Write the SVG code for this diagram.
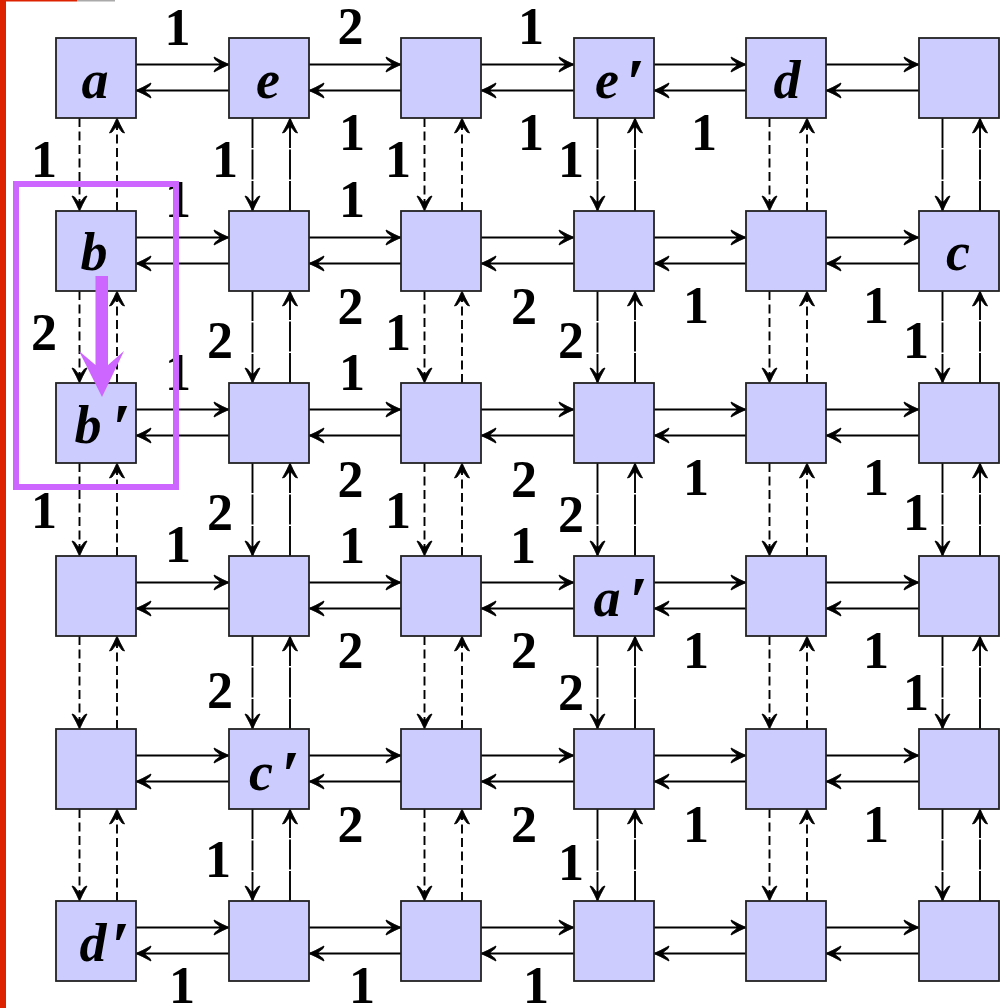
<svg xmlns="http://www.w3.org/2000/svg" width="1000" height="1008" viewBox="0 0 1000 1008">
<style>
.node rect{fill:#ccccff;stroke:#222;stroke-width:1.8}
.node text{font-family:"Liberation Serif","Times New Roman",serif;font-weight:bold;font-style:italic;font-size:54px;fill:#000;text-anchor:middle}
.node text.pr{font-size:68px}
#connectors line{stroke:#000;stroke-width:1.9;fill:none;marker-end:url(#ah)}
#connectors .dash{stroke-dasharray:9 4.5}
#connectors .long{stroke-dasharray:30 1.5}
#labels text{font-family:"Liberation Serif","Times New Roman",serif;font-weight:bold;font-size:52px;fill:#000;text-anchor:middle}
</style>
<defs>
<marker id="ah" markerUnits="userSpaceOnUse" viewBox="-16 -9 18 18" refX="0" refY="0" markerWidth="18" markerHeight="18" orient="auto" overflow="visible">
<path d="M0,0 Q-6,-2.5 -15,-7.5 L-14,-5 Q-9.5,-2 -8.5,0 Q-9.5,2 -14,5 L-15,7.5 Q-6,2.5 0,0 Z" fill="#000" stroke="#000" stroke-width="0.9" stroke-linejoin="round"/>
</marker>
</defs>
<rect x="0" y="0" width="1000" height="1008" fill="#fff"/>
<rect x="0" y="0" width="6" height="1008" fill="#dd2200"/>
<rect x="0" y="0" width="77" height="1.5" fill="#dd2200"/>
<rect x="77" y="0" width="38" height="1.5" fill="#aaaaaa"/>

<g id="connectors">
<line x1="136" y1="64.5" x2="229" y2="64.5"/><line x1="229" y1="90.5" x2="136" y2="90.5"/>
<line x1="309" y1="64.5" x2="401" y2="64.5"/><line x1="401" y1="90.5" x2="309" y2="90.5"/>
<line x1="481" y1="64.5" x2="574" y2="64.5"/><line x1="574" y1="90.5" x2="481" y2="90.5"/>
<line x1="654" y1="64.5" x2="746" y2="64.5"/><line x1="746" y1="90.5" x2="654" y2="90.5"/>
<line x1="826" y1="64.5" x2="919" y2="64.5"/><line x1="919" y1="90.5" x2="826" y2="90.5"/>
<line x1="136" y1="237.5" x2="229" y2="237.5"/><line x1="229" y1="263.5" x2="136" y2="263.5"/>
<line x1="309" y1="237.5" x2="401" y2="237.5"/><line x1="401" y1="263.5" x2="309" y2="263.5"/>
<line x1="481" y1="237.5" x2="574" y2="237.5"/><line x1="574" y1="263.5" x2="481" y2="263.5"/>
<line x1="654" y1="237.5" x2="746" y2="237.5"/><line x1="746" y1="263.5" x2="654" y2="263.5"/>
<line x1="826" y1="237.5" x2="919" y2="237.5"/><line x1="919" y1="263.5" x2="826" y2="263.5"/>
<line x1="136" y1="409.5" x2="229" y2="409.5"/><line x1="229" y1="435.5" x2="136" y2="435.5"/>
<line x1="309" y1="409.5" x2="401" y2="409.5"/><line x1="401" y1="435.5" x2="309" y2="435.5"/>
<line x1="481" y1="409.5" x2="574" y2="409.5"/><line x1="574" y1="435.5" x2="481" y2="435.5"/>
<line x1="654" y1="409.5" x2="746" y2="409.5"/><line x1="746" y1="435.5" x2="654" y2="435.5"/>
<line x1="826" y1="409.5" x2="919" y2="409.5"/><line x1="919" y1="435.5" x2="826" y2="435.5"/>
<line x1="136" y1="582.5" x2="229" y2="582.5"/><line x1="229" y1="608.5" x2="136" y2="608.5"/>
<line x1="309" y1="582.5" x2="401" y2="582.5"/><line x1="401" y1="608.5" x2="309" y2="608.5"/>
<line x1="481" y1="582.5" x2="574" y2="582.5"/><line x1="574" y1="608.5" x2="481" y2="608.5"/>
<line x1="654" y1="582.5" x2="746" y2="582.5"/><line x1="746" y1="608.5" x2="654" y2="608.5"/>
<line x1="826" y1="582.5" x2="919" y2="582.5"/><line x1="919" y1="608.5" x2="826" y2="608.5"/>
<line x1="136" y1="755.5" x2="229" y2="755.5"/><line x1="229" y1="781.5" x2="136" y2="781.5"/>
<line x1="309" y1="755.5" x2="401" y2="755.5"/><line x1="401" y1="781.5" x2="309" y2="781.5"/>
<line x1="481" y1="755.5" x2="574" y2="755.5"/><line x1="574" y1="781.5" x2="481" y2="781.5"/>
<line x1="654" y1="755.5" x2="746" y2="755.5"/><line x1="746" y1="781.5" x2="654" y2="781.5"/>
<line x1="826" y1="755.5" x2="919" y2="755.5"/><line x1="919" y1="781.5" x2="826" y2="781.5"/>
<line x1="136" y1="927.5" x2="229" y2="927.5"/><line x1="229" y1="953.5" x2="136" y2="953.5"/>
<line x1="309" y1="927.5" x2="401" y2="927.5"/><line x1="401" y1="953.5" x2="309" y2="953.5"/>
<line x1="481" y1="927.5" x2="574" y2="927.5"/><line x1="574" y1="953.5" x2="481" y2="953.5"/>
<line x1="654" y1="927.5" x2="746" y2="927.5"/><line x1="746" y1="953.5" x2="654" y2="953.5"/>
<line x1="826" y1="927.5" x2="919" y2="927.5"/><line x1="919" y1="953.5" x2="826" y2="953.5"/>

<line class="dash" x1="79.5" y1="118" x2="79.5" y2="211"/><line class="dash" x1="117" y1="211" x2="117" y2="118"/>
<line class="dash" x1="79.5" y1="291" x2="79.5" y2="383"/><line class="dash" x1="117" y1="383" x2="117" y2="291"/>
<line class="dash" x1="79.5" y1="463" x2="79.5" y2="556"/><line class="dash" x1="117" y1="556" x2="117" y2="463"/>
<line class="dash" x1="79.5" y1="636" x2="79.5" y2="729"/><line class="dash" x1="117" y1="729" x2="117" y2="636"/>
<line class="dash" x1="79.5" y1="809" x2="79.5" y2="901"/><line class="dash" x1="117" y1="901" x2="117" y2="809"/>
<line class="long" x1="252.5" y1="118" x2="252.5" y2="211"/><line class="long" x1="290" y1="211" x2="290" y2="118"/>
<line class="long" x1="252.5" y1="291" x2="252.5" y2="383"/><line class="long" x1="290" y1="383" x2="290" y2="291"/>
<line class="long" x1="252.5" y1="463" x2="252.5" y2="556"/><line class="long" x1="290" y1="556" x2="290" y2="463"/>
<line class="long" x1="252.5" y1="636" x2="252.5" y2="729"/><line class="long" x1="290" y1="729" x2="290" y2="636"/>
<line class="long" x1="252.5" y1="809" x2="252.5" y2="901"/><line class="long" x1="290" y1="901" x2="290" y2="809"/>
<line class="dash" x1="424.5" y1="118" x2="424.5" y2="211"/><line class="dash" x1="462" y1="211" x2="462" y2="118"/>
<line class="dash" x1="424.5" y1="291" x2="424.5" y2="383"/><line class="dash" x1="462" y1="383" x2="462" y2="291"/>
<line class="dash" x1="424.5" y1="463" x2="424.5" y2="556"/><line class="dash" x1="462" y1="556" x2="462" y2="463"/>
<line class="dash" x1="424.5" y1="636" x2="424.5" y2="729"/><line class="dash" x1="462" y1="729" x2="462" y2="636"/>
<line class="dash" x1="424.5" y1="809" x2="424.5" y2="901"/><line class="dash" x1="462" y1="901" x2="462" y2="809"/>
<line class="long" x1="597.5" y1="118" x2="597.5" y2="211"/><line class="long" x1="635" y1="211" x2="635" y2="118"/>
<line class="long" x1="597.5" y1="291" x2="597.5" y2="383"/><line class="long" x1="635" y1="383" x2="635" y2="291"/>
<line class="long" x1="597.5" y1="463" x2="597.5" y2="556"/><line class="long" x1="635" y1="556" x2="635" y2="463"/>
<line class="long" x1="597.5" y1="636" x2="597.5" y2="729"/><line class="long" x1="635" y1="729" x2="635" y2="636"/>
<line class="long" x1="597.5" y1="809" x2="597.5" y2="901"/><line class="long" x1="635" y1="901" x2="635" y2="809"/>
<line class="dash" x1="769.5" y1="118" x2="769.5" y2="211"/><line class="dash" x1="807" y1="211" x2="807" y2="118"/>
<line class="dash" x1="769.5" y1="291" x2="769.5" y2="383"/><line class="dash" x1="807" y1="383" x2="807" y2="291"/>
<line class="dash" x1="769.5" y1="463" x2="769.5" y2="556"/><line class="dash" x1="807" y1="556" x2="807" y2="463"/>
<line class="dash" x1="769.5" y1="636" x2="769.5" y2="729"/><line class="dash" x1="807" y1="729" x2="807" y2="636"/>
<line class="dash" x1="769.5" y1="809" x2="769.5" y2="901"/><line class="dash" x1="807" y1="901" x2="807" y2="809"/>
<line class="long" x1="942.5" y1="118" x2="942.5" y2="211"/><line class="long" x1="980" y1="211" x2="980" y2="118"/>
<line class="long" x1="942.5" y1="291" x2="942.5" y2="383"/><line class="long" x1="980" y1="383" x2="980" y2="291"/>
<line class="long" x1="942.5" y1="463" x2="942.5" y2="556"/><line class="long" x1="980" y1="556" x2="980" y2="463"/>
<line class="long" x1="942.5" y1="636" x2="942.5" y2="729"/><line class="long" x1="980" y1="729" x2="980" y2="636"/>
<line class="long" x1="942.5" y1="809" x2="942.5" y2="901"/><line class="long" x1="980" y1="901" x2="980" y2="809"/>
</g>

<g id="nodes">
<g class="node" id="n00"><rect x="56" y="38" width="80" height="80"/><text x="95" y="98">a</text></g>
<g class="node" id="n01"><rect x="229" y="38" width="80" height="80"/><text x="268" y="98">e</text></g>
<g class="node" id="n02"><rect x="401" y="38" width="80" height="80"/></g>
<g class="node" id="n03"><rect x="574" y="38" width="80" height="80"/><text x="607" y="98">e</text><text class="pr" x="635" y="105">′</text></g>
<g class="node" id="n04"><rect x="746" y="38" width="80" height="80"/><text x="787" y="98">d</text></g>
<g class="node" id="n05"><rect x="919" y="38" width="80" height="80"/></g>

<g class="node" id="n10"><rect x="56" y="211" width="80" height="80"/><text x="94" y="270">b</text></g>
<g class="node" id="n11"><rect x="229" y="211" width="80" height="80"/></g>
<g class="node" id="n12"><rect x="401" y="211" width="80" height="80"/></g>
<g class="node" id="n13"><rect x="574" y="211" width="80" height="80"/></g>
<g class="node" id="n14"><rect x="746" y="211" width="80" height="80"/></g>
<g class="node" id="n15"><rect x="919" y="211" width="80" height="80"/><text x="958" y="270">c</text></g>

<g class="node" id="n20"><rect x="56" y="383" width="80" height="80"/><text x="88" y="443">b</text><text class="pr" x="121" y="450">′</text></g>
<g class="node" id="n21"><rect x="229" y="383" width="80" height="80"/></g>
<g class="node" id="n22"><rect x="401" y="383" width="80" height="80"/></g>
<g class="node" id="n23"><rect x="574" y="383" width="80" height="80"/></g>
<g class="node" id="n24"><rect x="746" y="383" width="80" height="80"/></g>
<g class="node" id="n25"><rect x="919" y="383" width="80" height="80"/></g>

<g class="node" id="n30"><rect x="56" y="556" width="80" height="80"/></g>
<g class="node" id="n31"><rect x="229" y="556" width="80" height="80"/></g>
<g class="node" id="n32"><rect x="401" y="556" width="80" height="80"/></g>
<g class="node" id="n33"><rect x="574" y="556" width="80" height="80"/><text x="607" y="616">a</text><text class="pr" x="638" y="623">′</text></g>
<g class="node" id="n34"><rect x="746" y="556" width="80" height="80"/></g>
<g class="node" id="n35"><rect x="919" y="556" width="80" height="80"/></g>

<g class="node" id="n40"><rect x="56" y="729" width="80" height="80"/></g>
<g class="node" id="n41"><rect x="229" y="729" width="80" height="80"/><text x="261" y="790">c</text><text class="pr" x="290" y="797">′</text></g>
<g class="node" id="n42"><rect x="401" y="729" width="80" height="80"/></g>
<g class="node" id="n43"><rect x="574" y="729" width="80" height="80"/></g>
<g class="node" id="n44"><rect x="746" y="729" width="80" height="80"/></g>
<g class="node" id="n45"><rect x="919" y="729" width="80" height="80"/></g>

<g class="node" id="n50"><rect x="56" y="901" width="80" height="80"/><text x="93" y="961">d</text><text class="pr" x="120" y="968">′</text></g>
<g class="node" id="n51"><rect x="229" y="901" width="80" height="80"/></g>
<g class="node" id="n52"><rect x="401" y="901" width="80" height="80"/></g>
<g class="node" id="n53"><rect x="574" y="901" width="80" height="80"/></g>
<g class="node" id="n54"><rect x="746" y="901" width="80" height="80"/></g>
<g class="node" id="n55"><rect x="919" y="901" width="80" height="80"/></g>
</g>

<g id="labels">
<text x="177.5" y="45">1</text><text x="350.5" y="44">2</text><text x="531" y="44">1</text>
<text x="352" y="150">1</text><text x="531" y="150">1</text><text x="704" y="150">1</text>
<text x="44" y="177">1</text><text x="225" y="177">1</text><text x="398" y="177">1</text><text x="571" y="177">1</text>
<text x="178" y="217">1</text><text x="352" y="217">1</text>
<text x="350.5" y="324">2</text><text x="524" y="324">2</text><text x="696" y="323">1</text><text x="876" y="323">1</text>
<text x="44" y="350">2</text><text x="220" y="358">2</text><text x="398" y="350">1</text><text x="571" y="358">2</text><text x="916" y="358">1</text>
<text x="178" y="390">1</text><text x="352" y="390">1</text>
<text x="350.5" y="497">2</text><text x="524" y="497">2</text><text x="696" y="495">1</text><text x="876" y="495">1</text>
<text x="44" y="528">1</text><text x="220" y="530">2</text><text x="398" y="528">1</text><text x="571" y="532">2</text><text x="916" y="530">1</text>
<text x="178" y="562">1</text><text x="352" y="563">1</text><text x="523" y="563">1</text>
<text x="350.5" y="668">2</text><text x="524" y="668">2</text><text x="696" y="668">1</text><text x="876" y="668">1</text>
<text x="220" y="708">2</text><text x="571" y="710">2</text><text x="916" y="710">1</text>
<text x="350.5" y="842">2</text><text x="524" y="842">2</text><text x="696" y="842">1</text><text x="876" y="842">1</text>
<text x="218" y="877">1</text><text x="571" y="880">1</text>
<text x="182" y="1003">1</text><text x="362" y="1003">1</text><text x="536" y="1003">1</text>
</g>

<g id="highlight">
<rect x="16" y="184" width="160" height="303" fill="none" stroke="#cc66ff" stroke-width="6"/>
<path d="M95.5,276 H108 V365 L124,351 L102,397 L79,351 L95.5,365 Z" fill="#cc66ff"/>
</g>
</svg>
